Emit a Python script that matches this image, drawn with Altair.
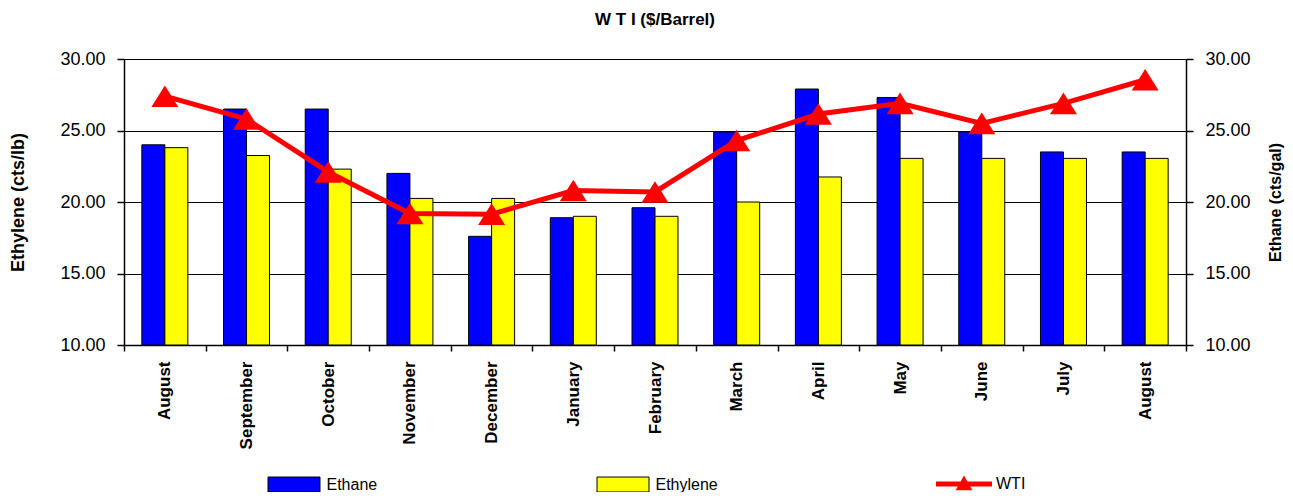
import json
import altair as alt
import pandas as pd

# ---------------- data ----------------
months = ["August", "September", "October", "November", "December", "January",
          "February", "March", "April", "May", "June", "July", "August"]
ethane = [24.0, 26.5, 26.5, 22.0, 17.6, 18.9, 19.6, 24.9, 27.9, 27.3, 24.9, 23.5, 23.5]
ethylene = [23.8, 23.25, 22.3, 20.25, 20.25, 19.0, 19.0, 20.0, 21.75, 23.05, 23.05, 23.05, 23.05]
wti = [27.4, 25.8, 22.1, 19.2, 19.15, 20.8, 20.7, 24.3, 26.15, 26.9, 25.5, 26.9, 28.55]
series_names = ["Ethane", "Ethylene"]
series_colors = ["#0000FF", "#FFFF00"]
line_name = "WTI"
line_color = "#FF0000"
y_ticks = [10, 15, 20, 25, 30]

idx = list(range(len(months)))
bars_df = pd.DataFrame({
    "idx": idx + idx,
    "series": [series_names[0]] * len(idx) + [series_names[1]] * len(idx),
    "value": ethane + ethylene,
})
wti_df = pd.DataFrame({"idx": idx, "value": wti, "name": [line_name] * len(idx)})

FONT = "Liberation Sans"
RECT = "M-1,-0.288H1V0.288H-1Z"
TRI = "M-1,0.8L0,-0.8L1,0.8Z"
WTI_SYM = "M-1,-0.09H1V0.09H-1Z M-0.3,0.22L0,-0.3L0.3,0.22Z"

label_expr = json.dumps(months) + "[datum.value]"

x_enc = alt.X(
    "idx:O",
    scale=alt.Scale(paddingInner=0, paddingOuter=0),
    axis=alt.Axis(
        title=None, labelExpr=label_expr, labelAngle=270, labelAlign="right",
        labelBaseline="middle", labelFont=FONT, labelFontSize=17,
        labelFontWeight="bold", labelColor="black", tickBand="extent",
        tickSize=6, tickColor="black", tickWidth=1.5, domainColor="black",
        domainWidth=1.5, labelPadding=10, grid=False,
    ),
)

y_scale = alt.Scale(domain=[10, 30], zero=False, nice=False)

y_left = alt.Y(
    "value:Q", scale=y_scale,
    axis=alt.Axis(
        title="Ethylene (cts/lb)", values=y_ticks, format=".2f", orient="left",
        grid=True, gridColor="black", gridWidth=1, domainColor="black",
        domainWidth=1.5, tickColor="black", tickSize=7, tickWidth=1.5,
        labelFont=FONT, labelFontSize=18, labelColor="black", labelPadding=12,
        titleFont=FONT, titleFontSize=18, titleFontWeight="bold",
        titleColor="black", titleAngle=270, titleX=-106, titleY=143,
        titleBaseline="middle", titleAlign="center",
    ),
)

y_right = alt.Y(
    "value:Q", scale=y_scale,
    axis=alt.Axis(
        title="Ethane (cts/gal)", values=y_ticks, format=".2f", orient="right",
        grid=False, domainColor="black", domainWidth=1.5, tickColor="black",
        tickSize=7, tickWidth=1.5, labelFont=FONT, labelFontSize=18,
        labelColor="black", labelPadding=12, titleFont=FONT, titleFontSize=16,
        titleFontWeight="bold", titleColor="black", titleAngle=270, titleX=89,
        titleY=143, titleBaseline="middle", titleAlign="center",
    ),
)

bars = alt.Chart(bars_df).mark_bar(stroke="black", strokeWidth=1).encode(
    x=x_enc,
    xOffset=alt.XOffset("series:N", scale=alt.Scale(domain=series_names, paddingInner=0, paddingOuter=0.776)),
    y=y_left,
    y2=alt.datum(10),
    color=alt.Color(
        "series:N",
        scale=alt.Scale(domain=series_names, range=series_colors),
        legend=alt.Legend(
            orient="none", legendX=143.5, legendY=399, direction="horizontal",
            title=None, symbolType=RECT, symbolSize=2704, symbolStrokeColor="black",
            symbolStrokeWidth=1, symbolOpacity=1, labelFont=FONT, labelFontSize=16,
            labelColor="black", labelOffset=6, columnPadding=217, padding=0,
        ),
    ),
)

line = alt.Chart(wti_df).mark_line(color=line_color, strokeWidth=5).encode(
    x=x_enc, y=y_right,
)

points = alt.Chart(wti_df).mark_point(
    shape=TRI, filled=True, size=729, opacity=1, strokeWidth=0
).encode(
    x=x_enc, y=y_right,
    fill=alt.Fill(
        "name:N",
        scale=alt.Scale(domain=[line_name], range=[line_color]),
        legend=alt.Legend(
            orient="none", legendX=812, legendY=397, title=None,
            symbolType=WTI_SYM, symbolSize=3136, symbolStrokeWidth=0,
            symbolOpacity=1, labelOffset=4,
            labelFont=FONT, labelFontSize=16, labelColor="black", padding=0,
        ),
    ),
)

right = alt.layer(line, points)

chart = alt.layer(bars, right).resolve_scale(y="independent").properties(
    width=1062,
    height=286,
    autosize=alt.AutoSizeParams(type="none"),
    padding={"left": 116, "top": 51, "right": 99, "bottom": 147},
    title=alt.Title("W T I ($/Barrel)", font=FONT, fontSize=17, fontWeight="bold",
                    color="black", anchor="middle", offset=21),
).configure_view(strokeWidth=0)

chart.save("out.html", embed_options={"renderer": "svg", "actions": False})
